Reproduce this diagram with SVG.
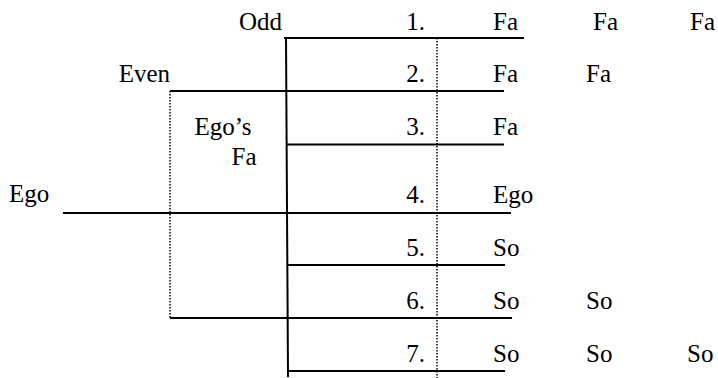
<svg xmlns="http://www.w3.org/2000/svg" width="718" height="378" viewBox="0 0 718 378">
<style>
text{font-family:'Liberation Serif','Times New Roman',serif;font-size:25px;fill:#000}
.r{text-anchor:end}
.m{text-anchor:middle}
.solid{stroke:#000;stroke-width:2;fill:none}
.dot{stroke:#000;stroke-width:1.5;stroke-dasharray:1.5 1.5;fill:none}
</style>
<rect width="718" height="378" fill="#fff"/>
<g id="connectors">
<line class="solid" x1="284" y1="38" x2="524" y2="38"/>
<line class="solid" x1="170" y1="91" x2="504" y2="91"/>
<line class="solid" x1="286" y1="144.5" x2="504" y2="144.5"/>
<line class="solid" x1="63" y1="213" x2="511" y2="213"/>
<line class="solid" x1="287" y1="265" x2="505" y2="265"/>
<line class="solid" x1="170" y1="318" x2="512" y2="318"/>
<line class="solid" x1="288" y1="371" x2="505" y2="371"/>
<line class="solid" x1="286" y1="38" x2="288" y2="377"/>
<line class="dot" x1="170" y1="91" x2="170" y2="318"/>
<line class="dot" x1="437" y1="38" x2="437" y2="378"/>
</g>
<g id="odd"><text class="r" x="282" y="30">Odd</text></g>
<g id="even"><text class="r" x="170" y="82">Even</text></g>
<g id="egos-fa"><text class="m" x="223" y="135">Ego’s</text><text class="m" x="244" y="165">Fa</text></g>
<g id="ego"><text x="9" y="202">Ego</text></g>
<g id="row1"><text class="r" x="425" y="30">1.</text><text x="493" y="30">Fa</text><text x="593" y="30">Fa</text><text x="690" y="30">Fa</text></g>
<g id="row2"><text class="r" x="425" y="82">2.</text><text x="493" y="82">Fa</text><text x="586" y="82">Fa</text></g>
<g id="row3"><text class="r" x="425" y="135">3.</text><text x="493" y="135">Fa</text></g>
<g id="row4"><text class="r" x="425" y="203">4.</text><text x="493" y="203">Ego</text></g>
<g id="row5"><text class="r" x="425" y="256">5.</text><text x="493" y="256">So</text></g>
<g id="row6"><text class="r" x="425" y="309">6.</text><text x="493" y="309">So</text><text x="586" y="309">So</text></g>
<g id="row7"><text class="r" x="425" y="362">7.</text><text x="493" y="362">So</text><text x="586" y="362">So</text><text x="687" y="362">So</text></g>
</svg>
